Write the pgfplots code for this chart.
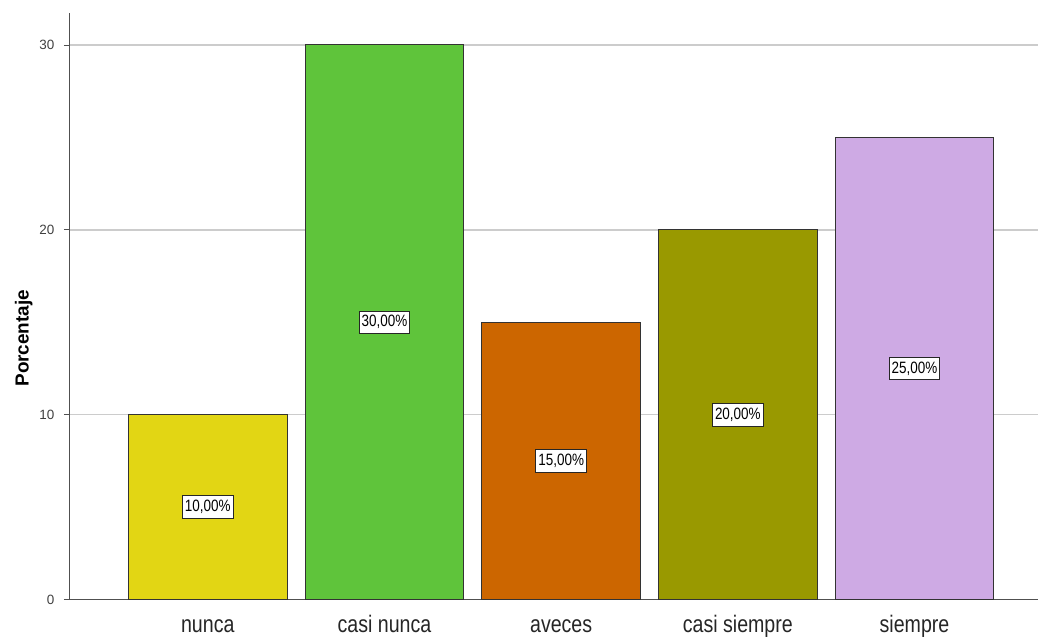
\documentclass[border=0pt]{standalone}
\usepackage{pgfplots}
\pgfplotsset{compat=1.18}
\usepackage{fontspec}
\setmainfont{Liberation Sans}
\newfontfamily\narrowfont[FakeStretch=0.82]{Liberation Sans}
\definecolor{cyellow}{RGB}{226,214,20}
\definecolor{cgreen}{RGB}{95,196,59}
\definecolor{corange}{RGB}{204,102,0}
\definecolor{colive}{RGB}{153,153,0}
\definecolor{cpurple}{RGB}{206,170,228}
\definecolor{gridc}{RGB}{204,204,204}
\definecolor{axc}{RGB}{80,80,80}
\begin{document}
\begin{tikzpicture}[x=1bp,y=1bp]
\begin{axis}[
  scale only axis,
  width=969bp, height=587bp,
  xmin=-0.78, xmax=4.70,
  ymin=0, ymax=31.73,
  axis x line*=bottom,
  axis y line*=left,
  axis line style={axc, line width=1pt},
  xtick={0,1,2,3,4},
  xticklabels={nunca,casi nunca,aveces,casi siempre,siempre},
  xtick style={draw=none},
  x tick label style={font=\narrowfont\fontsize{24}{24}\selectfont, text=black!85, anchor=base, yshift=-27bp},
  ytick={0,10,20,30},
  y tick label style={font=\fontsize{13.5}{13.5}\selectfont, text=black!75, xshift=-6bp},
  /pgf/number format/assume math mode=true,
  ytick style={axc, line width=0.8pt},
  tick align=outside,
  major tick length=6bp,
  ymajorgrids,
  major grid style={gridc, line width=1.6pt},
  ylabel={\textbf{Porcentaje}},
  ylabel style={font=\fontsize{19}{19}\selectfont, at={(axis description cs:0,0.5)}, anchor=south, yshift=34bp, xshift=-32bp},
  clip=false,
]
\addplot[ybar, bar width=159bp, fill=cyellow, draw=black!80, line width=1pt] coordinates {(0,10)};
\addplot[ybar, bar width=159bp, fill=cgreen, draw=black!80, line width=1pt] coordinates {(1,30)};
\addplot[ybar, bar width=159bp, fill=corange, draw=black!80, line width=1pt] coordinates {(2,15)};
\addplot[ybar, bar width=159bp, fill=colive, draw=black!80, line width=1pt] coordinates {(3,20)};
\addplot[ybar, bar width=159bp, fill=cpurple, draw=black!80, line width=1pt] coordinates {(4,25)};
\addplot[only marks, mark=none, nodes near coords, point meta=explicit symbolic,
  every node near coord/.style={anchor=center, fill=white, draw=black!85, line width=0.8pt,
    inner xsep=2.5bp, inner ysep=4.5bp, font=\narrowfont\fontsize{16.5}{16.5}\selectfont}]
  table[meta=lab] {
x y lab
0 5 10,00\%
1 15 30,00\%
2 7.5 15,00\%
3 10 20,00\%
4 12.5 25,00\%
};
\end{axis}
\useasboundingbox (-70bp,-35bp) rectangle (969bp,600bp);
\end{tikzpicture}
\end{document}
